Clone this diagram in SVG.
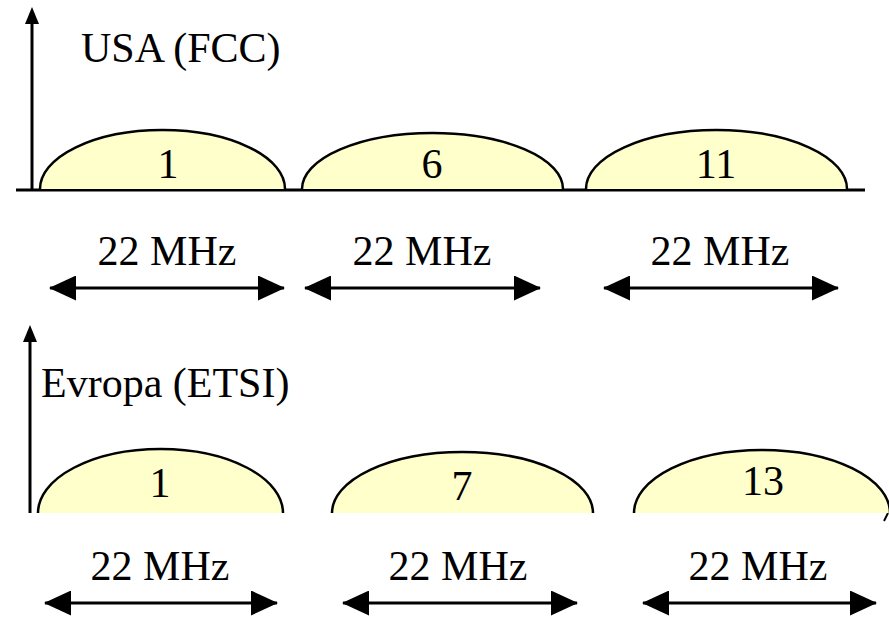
<svg xmlns="http://www.w3.org/2000/svg" width="889" height="618" viewBox="0 0 889 618">
<style>
text{font-family:"Liberation Serif","Times New Roman",serif;font-size:42px;fill:#000;text-anchor:middle}
.lbl{text-anchor:start}
.hump{fill:#FFFFCC;stroke:#000;stroke-width:2.5}
.axis{stroke:#000;stroke-width:3;fill:none}
.dim{stroke:#000;stroke-width:3;fill:none;marker-start:url(#ah);marker-end:url(#ah)}
</style>
<defs>
<marker id="ah" markerUnits="userSpaceOnUse" viewBox="0 0 27 25" markerWidth="27" markerHeight="25" refX="26" refY="12.5" orient="auto-start-reverse">
<path d="M0 0 L27 12.5 L0 25 Z" fill="#000"/>
</marker>
</defs>
<rect width="889" height="618" fill="#fff"/>
<!-- USA section -->
<g id="usa-axis">
<line class="axis" x1="32" y1="190" x2="32" y2="20"/>
<path d="M32 7 L25 24 L39 24 Z" fill="#000"/>
<line class="axis" x1="16" y1="190" x2="865" y2="190"/>
<text class="lbl" x="81" y="62">USA (FCC)</text>
</g>
<g id="usa-ch1">
<path class="hump" d="M40 189 A122.5 59 0 0 1 285 189"/>
<text x="168" y="178">1</text>
</g>
<g id="usa-ch6">
<path class="hump" d="M302 189 A130.5 56 0 0 1 563 189"/>
<text x="432" y="178">6</text>
</g>
<g id="usa-ch11">
<path class="hump" d="M586 189 A130.5 59 0 0 1 847 189"/>
<text x="716" y="178">11</text>
</g>
<g id="usa-bw">
<text x="167" y="265">22 MHz</text>
<text x="422" y="265">22 MHz</text>
<text x="720" y="265">22 MHz</text>
</g>
<!-- Europe section -->
<g id="eu-axis">
<line class="axis" x1="30" y1="513" x2="30" y2="338"/>
<path d="M30 325 L23 342 L37 342 Z" fill="#000"/>
<text class="lbl" x="41" y="397">Evropa (ETSI)</text>
<line x1="884" y1="521" x2="888" y2="513" stroke="#000" stroke-width="2"/>
</g>
<g id="eu-ch1">
<path class="hump" d="M38 513 A122.5 64 0 0 1 283 513"/>
<text x="160" y="497">1</text>
</g>
<g id="eu-ch7">
<path class="hump" d="M332 513 A130.5 61 0 0 1 593 513"/>
<text x="462" y="500">7</text>
</g>
<g id="eu-ch13">
<path class="hump" d="M634 513 A128 63 0 0 1 890 513"/>
<text x="763" y="495">13</text>
</g>
<g id="eu-bw">
<text x="160" y="580">22 MHz</text>
<text x="458" y="580">22 MHz</text>
<text x="758" y="580">22 MHz</text>
</g>
<g id="connectors">
<line class="dim" x1="50" y1="288" x2="284" y2="288"/>
<line class="dim" x1="305" y1="288" x2="540" y2="288"/>
<line class="dim" x1="604" y1="288" x2="838" y2="288"/>
<line class="dim" x1="45" y1="603" x2="277" y2="603"/>
<line class="dim" x1="343" y1="603" x2="577" y2="603"/>
<line class="dim" x1="643" y1="603" x2="876" y2="603"/>
</g>
</svg>
